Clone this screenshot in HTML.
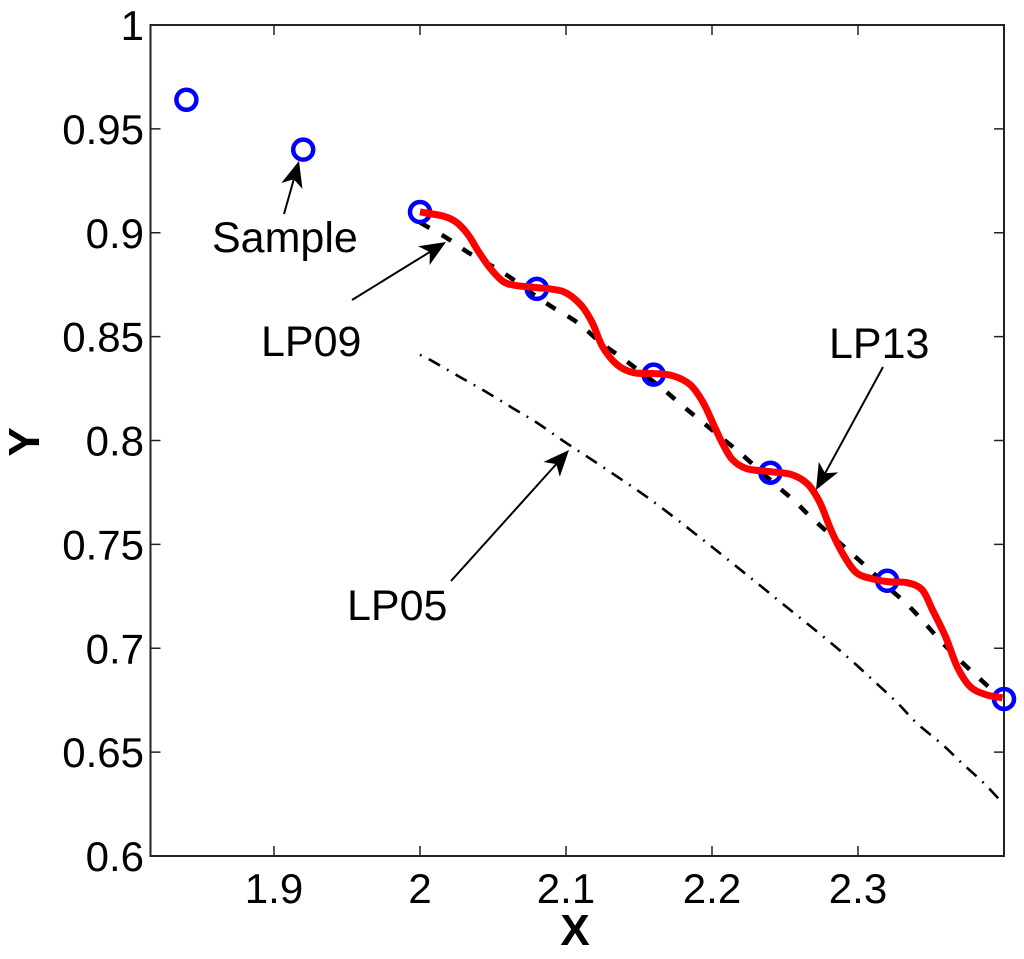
<!DOCTYPE html>
<html lang="en">
<head>
<meta charset="utf-8">
<title>Sample and LP curves</title>
<style>
  html, body { margin: 0; padding: 0; background: #fff; }
  svg { display: block; }
  text { font-family: "Liberation Sans", Arial, sans-serif; fill: #000; }
</style>
</head>
<body>
<svg id="chart" xmlns="http://www.w3.org/2000/svg" width="1024" height="959" viewBox="0 0 1024 959"></svg>
<script>
const xTicks = [1.9, 2, 2.1, 2.2, 2.3];
const xTickLabels = ['1.9', '2', '2.1', '2.2', '2.3'];
const yTicks = [0.6, 0.65, 0.7, 0.75, 0.8, 0.85, 0.9, 0.95, 1];
const yTickLabels = ['0.6', '0.65', '0.7', '0.75', '0.8', '0.85', '0.9', '0.95', '1'];

const sampleX = [1.84, 1.92, 2.0, 2.08, 2.16, 2.24, 2.32, 2.4];
const sampleY = [0.964, 0.94, 0.91, 0.873, 0.8317, 0.7845, 0.7325, 0.6756];

const lp13X = [2.000, 2.016, 2.025, 2.033, 2.040, 2.048, 2.057, 2.066, 2.080, 2.098, 2.110, 2.118, 2.125, 2.135, 2.146, 2.160, 2.173, 2.185, 2.194, 2.202, 2.207, 2.214, 2.224, 2.240, 2.255, 2.266, 2.274, 2.282, 2.290, 2.299, 2.310, 2.321, 2.334, 2.344, 2.351, 2.360, 2.368, 2.377, 2.388, 2.399];
const lp13Y = [0.9100, 0.9080, 0.9050, 0.8990, 0.8910, 0.8830, 0.8765, 0.8746, 0.8736, 0.8717, 0.8654, 0.8567, 0.8452, 0.8365, 0.8327, 0.8322, 0.8312, 0.8269, 0.8182, 0.8062, 0.7989, 0.7908, 0.7864, 0.7850, 0.7835, 0.7787, 0.7700, 0.7561, 0.7450, 0.7363, 0.7334, 0.7320, 0.7315, 0.7281, 0.7185, 0.7055, 0.6910, 0.6814, 0.6776, 0.6761];

const lp09X = [2.000, 2.019, 2.033, 2.050, 2.062, 2.077, 2.090, 2.108, 2.123, 2.138, 2.151, 2.166, 2.179, 2.193, 2.219, 2.242, 2.257, 2.269, 2.295, 2.308, 2.321, 2.334, 2.345, 2.356, 2.368, 2.382, 2.397];
const lp09Y = [0.9049, 0.8972, 0.8905, 0.8837, 0.8784, 0.8707, 0.8645, 0.8567, 0.8476, 0.8399, 0.8331, 0.8250, 0.8172, 0.8091, 0.7941, 0.7797, 0.7705, 0.7623, 0.7460, 0.7378, 0.7291, 0.7209, 0.7127, 0.7040, 0.6954, 0.6862, 0.6766];

const lp05X = [2.000, 2.009, 2.027, 2.045, 2.063, 2.080, 2.100, 2.123, 2.158, 2.192, 2.217, 2.234, 2.251, 2.279, 2.295, 2.310, 2.327, 2.340, 2.358, 2.371, 2.386, 2.399];
const lp05Y = [0.8413, 0.8380, 0.8307, 0.8235, 0.8158, 0.8086, 0.7989, 0.7883, 0.7715, 0.7532, 0.7392, 0.7296, 0.7199, 0.7040, 0.6944, 0.6848, 0.6737, 0.6641, 0.6535, 0.6448, 0.6352, 0.6255];

const svg = document.getElementById('chart');
const NS = 'http://www.w3.org/2000/svg';
const plotLeft = 150.5, plotRight = 1004, plotTop = 25, plotBottom = 856;
const xMin = 2 - (420 - plotLeft) / 1460, xMax = 2.4, yMin = 0.6, yMax = 1;

function xScale(v) { return plotLeft + (v - xMin) / (xMax - xMin) * (plotRight - plotLeft); }
function yScale(v) { return plotBottom - (v - yMin) / (yMax - yMin) * (plotBottom - plotTop); }

function make(tag, attrs) {
  const el = document.createElementNS(NS, tag);
  for (const k in attrs) el.setAttribute(k, attrs[k]);
  svg.appendChild(el);
  return el;
}

function smoothPath(xs, ys) {
  const p = xs.map((x, i) => [xScale(x), yScale(ys[i])]);
  let d = 'M' + p[0][0].toFixed(2) + ' ' + p[0][1].toFixed(2);
  for (let i = 0; i < p.length - 1; i++) {
    const a = p[Math.max(i - 1, 0)], b = p[i], c = p[i + 1], e = p[Math.min(i + 2, p.length - 1)];
    const c1x = b[0] + (c[0] - a[0]) / 6, c1y = b[1] + (c[1] - a[1]) / 6;
    const c2x = c[0] - (e[0] - b[0]) / 6, c2y = c[1] - (e[1] - b[1]) / 6;
    d += 'C' + [c1x, c1y, c2x, c2y, c[0], c[1]].map(n => n.toFixed(2)).join(' ');
  }
  return d;
}

// Frame
const frame = make('rect', { x: plotLeft, y: plotTop, width: plotRight - plotLeft, height: plotBottom - plotTop, fill: 'none', stroke: '#222', 'stroke-width': 2 });



// X ticks and labels
xTicks.forEach((v, i) => {
  const x = xScale(v);
  const bottomTick = make('line', { x1: x, x2: x, y1: plotBottom, y2: plotBottom - 10, stroke: '#222', 'stroke-width': 1.5 });
  
  
  const topTick = make('line', { x1: x, x2: x, y1: plotTop, y2: plotTop + 10, stroke: '#222', 'stroke-width': 1.5 });
  
  
  const label = make('text', { x: x, y: 903, 'text-anchor': 'middle', 'font-size': 42 });
  label.textContent = xTickLabels[i];
  
  
});

// Y ticks and labels
yTicks.forEach((v, i) => {
  const y = yScale(v);
  const leftTick = make('line', { x1: plotLeft, x2: plotLeft + 10, y1: y, y2: y, stroke: '#222', 'stroke-width': 1.5 });
  
  
  const rightTick = make('line', { x1: plotRight, x2: plotRight - 10, y1: y, y2: y, stroke: '#222', 'stroke-width': 1.5 });
  
  
  const label = make('text', { x: 144, y: y + 15, 'text-anchor': 'end', 'font-size': 42 });
  label.textContent = yTickLabels[i];
  
  
});

// Axis titles
const xTitle = make('text', { x: 575, y: 945, 'text-anchor': 'middle', 'font-size': 44, 'font-weight': 'bold' });
xTitle.textContent = 'X';


const yTitle = make('text', { x: 0, y: 0, 'text-anchor': 'middle', 'font-size': 44, 'font-weight': 'bold', transform: 'translate(39 442) rotate(-90)' });
yTitle.textContent = 'Y';



// Series
const lineLp05 = make('path', { d: smoothPath(lp05X, lp05Y), fill: 'none', stroke: '#000', 'stroke-width': 2.6, 'stroke-dasharray': '1.8 8 13 8' });



const lineLp09 = make('path', { d: smoothPath(lp09X, lp09Y), fill: 'none', stroke: '#000', 'stroke-width': 4.5, 'stroke-dasharray': '11 14' });



sampleX.forEach((v, i) => {
  const pt = make('circle', { cx: xScale(v), cy: yScale(sampleY[i]), r: 10, fill: 'none', stroke: '#0000ff', 'stroke-width': 4.5 });
  
  
});

const lineLp13 = make('path', { d: smoothPath(lp13X, lp13Y), fill: 'none', stroke: '#ff0000', 'stroke-width': 7 });



// Annotations
function arrow(name, x1, y1, x2, y2) {
  const dx = x2 - x1, dy = y2 - y1, len = Math.hypot(dx, dy), ux = dx / len, uy = dy / len, nx = -uy, ny = ux;
  const headLen = 26, headHalf = 11, notch = 19;
  const shaft = make('line', { x1: x1, y1: y1, x2: x2 - ux * notch, y2: y2 - uy * notch, stroke: '#000', 'stroke-width': 2 });
  
  
  const pts = [
    [x2, y2],
    [x2 - ux * headLen + nx * headHalf, y2 - uy * headLen + ny * headHalf],
    [x2 - ux * notch, y2 - uy * notch],
    [x2 - ux * headLen - nx * headHalf, y2 - uy * headLen - ny * headHalf]
  ];
  const head = make('polygon', { points: pts.map(p => p[0].toFixed(1) + ',' + p[1].toFixed(1)).join(' '), fill: '#000' });
  
  
}

arrow('sample', 284, 214, 299, 161);
arrow('lp09', 352, 300, 446, 242);
arrow('lp13', 883, 367, 816, 490);
arrow('lp05', 451, 581, 569, 450);

const sampleLabel = make('text', { x: 212, y: 252, 'font-size': 43 });
sampleLabel.textContent = 'Sample';


const lp09Label = make('text', { x: 261, y: 356, 'font-size': 43 });
lp09Label.textContent = 'LP09';


const lp13Label = make('text', { x: 829, y: 358, 'font-size': 43 });
lp13Label.textContent = 'LP13';


const lp05Label = make('text', { x: 347, y: 620, 'font-size': 43 });
lp05Label.textContent = 'LP05';


</script>
</body>
</html>
